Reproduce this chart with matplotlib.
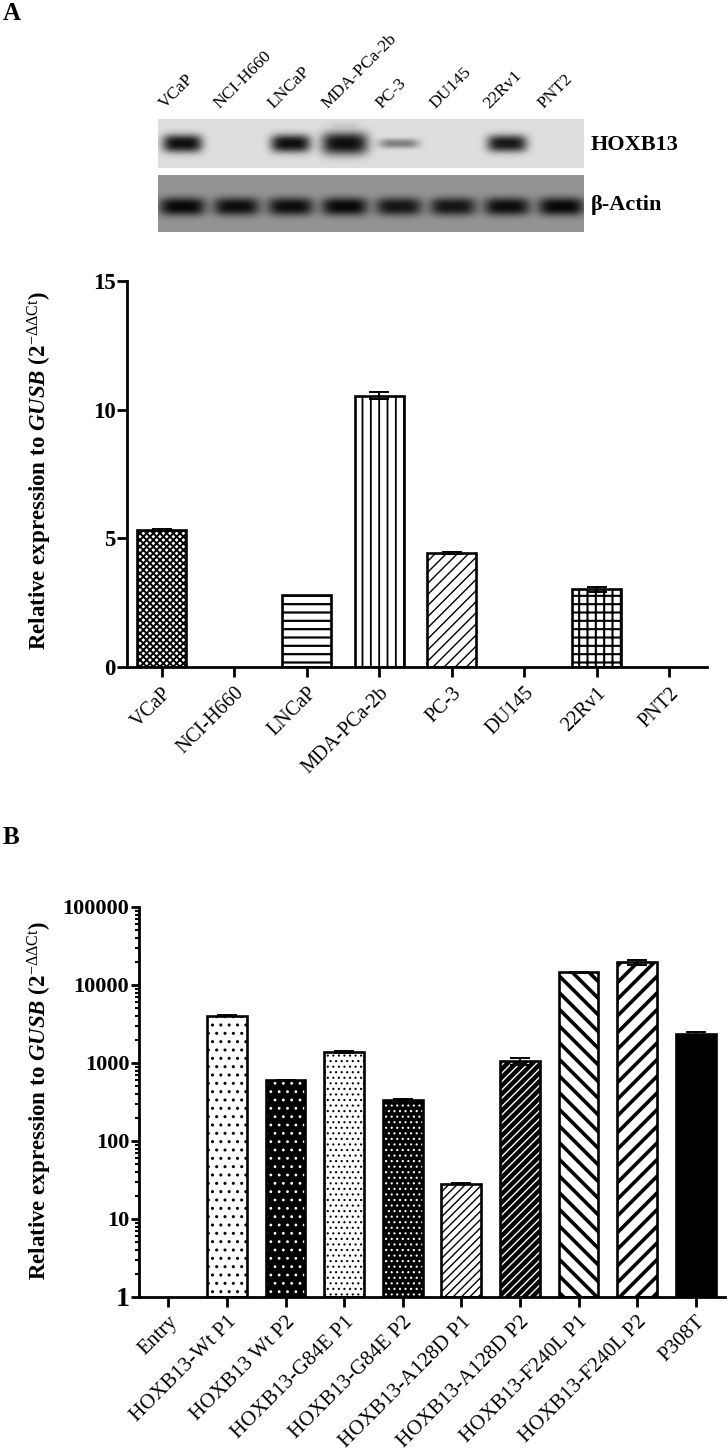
"""HOXB13 expression figure: western blot + qPCR (A) and construct qPCR (B)."""
import numpy as np
import matplotlib
matplotlib.use("Agg")
import matplotlib.pyplot as plt
from matplotlib.ticker import LogLocator, FixedLocator, NullFormatter

W, H = 728, 1453
SERIF = "Liberation Serif"

plt.rcParams["font.family"] = SERIF
plt.rcParams["mathtext.fontset"] = "custom"
plt.rcParams["mathtext.rm"] = SERIF
plt.rcParams["mathtext.it"] = SERIF + ":italic:bold"
plt.rcParams["mathtext.bf"] = SERIF + ":bold"

# --- data -----------------------------------------------------------------
# western blot, relative band strength per lane (0 = no band)
BLOT_LANES = ["VCaP", "NCI-H660", "LNCaP", "MDA-PCa-2b", "PC-3", "DU145", "22Rv1", "PNT2"]
HOXB13_BAND = [1.0, 0.0, 1.0, 1.35, 0.45, 0.0, 0.95, 0.0]
ACTIN_BAND = [1.0, 0.95, 0.95, 1.0, 0.9, 0.9, 0.95, 1.0]

# panel A qPCR
CELL_LINES = ["VCaP", "NCI-H660", "LNCaP", "MDA-PCa-2b", "PC-3", "DU145", "22Rv1", "PNT2"]
EXPR_A = [5.33, 0.0, 2.80, 10.55, 4.44, 0.0, 3.02, 0.0]
ERR_A = [0.05, 0.0, 0.0, 0.13, 0.03, 0.0, 0.10, 0.0]
YTICKS_A = [0, 5, 10, 15]

# panel B qPCR (log scale)
CONSTRUCTS = ["Entry", "HOXB13-Wt P1", "HOXB13 Wt P2", "HOXB13-G84E P1",
              "HOXB13-G84E P2", "HOXB13-A128D P1", "HOXB13-A128D P2",
              "HOXB13-F240L P1", "HOXB13-F240L P2", "P308T"]
EXPR_B = [0, 4050, 600, 1400, 340, 28.5, 1060, 14500, 19500, 2380]
ERR_B = [0, 60, 10, 40, 5, 0.5, 110, 200, 1500, 150]
YTICKS_B = [1, 10, 100, 1000, 10000, 100000]

# bar styles: (face, hatch, hatch colour, hatch linewidth)
STYLE_A = [("white", "xxxxx", "black", 1.4), None, ("white", "--", "black", 1.6),
           ("white", "||", "black", 1.3), ("white", "///", "black", 1.0), None,
           ("white", "++", "black", 1.5), None]
STYLE_B = [None,
           ("white", "..", "black", 1.0), ("black", "..", "white", 0.8),
           ("white", "...", "black", 0.8), ("black", "...", "white", 0.8),
           ("white", "////", "black", 1.0), ("black", "////", "white", 1.0),
           ("white", "\\\\", "black", 2.6), ("white", "//", "black", 2.6),
           ("black", None, None, 0)]

YLABEL = r"Relative expression to $\mathit{GUSB}$ (2$^{\mathrm{-\Delta\Delta Ct}}$)"


def fig_axes(fig, left, top, right, bottom):
    """Axes placed by pixel box (top-left origin)."""
    return fig.add_axes([left / W, 1 - bottom / H, (right - left) / W, (bottom - top) / H])


def hatched_bars(ax, x, vals, styles, width, bottom=0.0):
    for xi, v, st in zip(x, vals, styles):
        if st is None or v <= 0:
            continue
        fc, hatch, hc, hlw = st
        h = v - bottom
        ax.bar(xi, h, width, bottom=bottom, color=fc, linewidth=0, zorder=2)
        if hatch:
            with plt.rc_context({"hatch.linewidth": hlw}):
                bars = ax.bar(xi, h, width, bottom=bottom, facecolor="none",
                              edgecolor=hc, hatch=hatch, linewidth=0, zorder=3)
            for p in bars:
                if hasattr(p, "set_hatch_linewidth"):
                    p.set_hatch_linewidth(hlw)
        ax.bar(xi, h, width, bottom=bottom, facecolor="none", edgecolor="black",
               linewidth=1.9, zorder=4)


def error_bars(ax, x, vals, errs):
    xs = [xi for xi, e in zip(x, errs) if e > 0]
    ys = [v for v, e in zip(vals, errs) if e > 0]
    es = [e for e in errs if e > 0]
    ax.errorbar(xs, ys, yerr=es, fmt="none", ecolor="black", elinewidth=1.4,
                capsize=7.5, capthick=1.4, zorder=5)


def style_axis(ax):
    for s in ("top", "right"):
        ax.spines[s].set_visible(False)
    for s in ("left", "bottom"):
        ax.spines[s].set_linewidth(2.0)
    ax.tick_params(axis="both", which="major", direction="out", width=2.0)


fig = plt.figure(figsize=(W / 100, H / 100), dpi=100)
fig.patch.set_facecolor("white")

# --- panel letters ---------------------------------------------------------
fig.text(3 / W, 1 - 13 / H, "A", fontsize=18, fontweight="bold", va="center", ha="left")
fig.text(3 / W, 1 - 838 / H, "B", fontsize=18, fontweight="bold", va="center", ha="left")

# --- western blot ----------------------------------------------------------
bw, bh = 426, 113
axb = fig_axes(fig, 158, 119, 158 + bw, 119 + bh)
yy, xx = np.mgrid[0:bh, 0:bw]
img = np.ones((bh, bw))
img[0:49, :] = 0.87
img[56:bh, :] = 0.58
lane_x = [24 + 54.1 * i for i in range(len(BLOT_LANES))]
top_rows = yy < 49
bot_rows = yy >= 56
for cx, s in zip(lane_x, HOXB13_BAND):
    if s <= 0:
        continue
    wx = 20 * max(1.0, s) ** 0.5
    wy = 9 * s ** 0.8
    prof = np.exp(-(np.abs((xx - cx) / wx) ** 4 + np.abs((yy - 24) / wy) ** 2.5))
    if s > 1:  # overloaded lane smears upward
        smear = (s - 1) * 1.2 * np.exp(-np.abs((xx - cx) / 16) ** 4) * ((yy > 0) & (yy < 24)) \
            * np.clip(yy / 24, 0, 1)
        prof = np.maximum(prof, smear)
    img = np.where(top_rows, img * (1 - 0.94 * min(s, 1) * prof), img)
for cx, s in zip(lane_x, ACTIN_BAND):
    prof = np.exp(-(np.abs((xx - cx) / 23) ** 4 + np.abs((yy - 87) / 9) ** 2.5))
    img = np.where(bot_rows, img * (1 - 0.96 * s * prof), img)
axb.imshow(img, cmap="gray", vmin=0, vmax=1, extent=(0, bw, bh, 0),
           aspect="auto", interpolation="bilinear")
axb.set_xlim(0, bw)
axb.set_ylim(bh, 0)
axb.axis("off")
for cx, lab in zip(lane_x, BLOT_LANES):
    axb.text(cx - 17, -10, lab, rotation=45, rotation_mode="anchor", ha="left",
             va="baseline", fontsize=12.5, clip_on=False)
axb.text(433, 26, "HOXB13", fontsize=16, fontweight="bold", va="center", ha="left",
         clip_on=False)
axb.text(433, 86, "β-Actin", fontsize=16, fontweight="bold", va="center", ha="left",
         clip_on=False)

# --- panel A bar chart -----------------------------------------------------
axA = fig_axes(fig, 127, 281, 707, 667)
xa = np.arange(len(CELL_LINES))
hatched_bars(axA, xa, EXPR_A, STYLE_A, 0.68)
error_bars(axA, xa, EXPR_A, ERR_A)
axA.set_xlim(-0.48, len(CELL_LINES) - 0.48)
axA.set_ylim(0, 15)
axA.set_yticks(YTICKS_A)
axA.set_yticklabels([str(t) for t in YTICKS_A], fontsize=16.5, fontweight="bold")
axA.set_xticks(xa)
axA.set_xticklabels(CELL_LINES, rotation=45, ha="right", rotation_mode="anchor",
                    fontsize=14.5)
style_axis(axA)
axA.tick_params(axis="y", length=7, pad=1)
axA.tick_params(axis="x", length=7, pad=5)
fig.text(40 / W, 1 - 471 / H, YLABEL, rotation=90, ha="center", va="center",
         fontsize=16.5, fontweight="bold")

# --- panel B bar chart -----------------------------------------------------
axB = fig_axes(fig, 139, 907, 725, 1297)
xb = np.arange(len(CONSTRUCTS))
axB.set_yscale("log")
hatched_bars(axB, xb, EXPR_B, STYLE_B, 0.68, bottom=1.0)
error_bars(axB, xb, EXPR_B, ERR_B)
axB.set_xlim(-0.5, len(CONSTRUCTS) - 0.5)
axB.set_ylim(1, 100000)
axB.yaxis.set_major_locator(FixedLocator(YTICKS_B))
axB.set_yticklabels([str(t) for t in YTICKS_B], fontsize=16, fontweight="bold")
axB.get_yticklabels()[0].set_fontsize(20)
axB.yaxis.set_minor_locator(LogLocator(base=10, subs=np.arange(2, 10), numticks=20))
axB.yaxis.set_minor_formatter(NullFormatter())
axB.set_xticks(xb)
axB.set_xticklabels(CONSTRUCTS, rotation=45, ha="right", rotation_mode="anchor",
                    fontsize=15.2)
style_axis(axB)
axB.tick_params(axis="y", which="major", length=6, pad=1)
axB.tick_params(axis="y", which="minor", length=3, width=1.5)
axB.tick_params(axis="x", length=7, pad=4)
fig.text(40 / W, 1 - 1101 / H, YLABEL, rotation=90, ha="center", va="center",
         fontsize=16.5, fontweight="bold")

fig.savefig("out.png", dpi=100, facecolor="white")
